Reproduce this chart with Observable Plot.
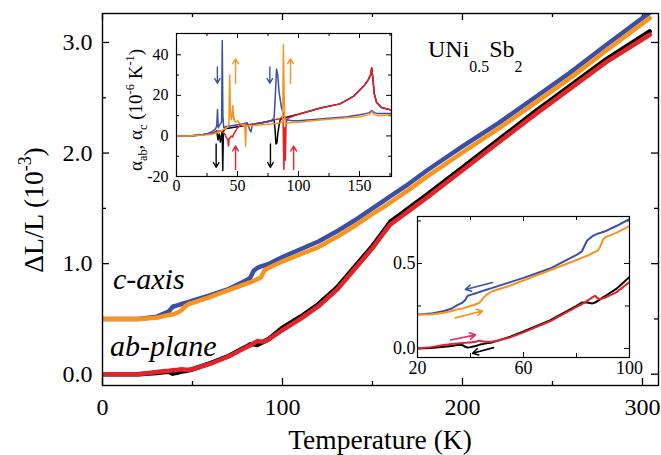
<!DOCTYPE html>
<html><head><meta charset="utf-8">
<script src="https://cdn.jsdelivr.net/npm/d3@7"></script>
<script src="https://cdn.jsdelivr.net/npm/@observablehq/plot@0.6"></script>
<style>
html,body{margin:0;padding:0;background:#fff;}
#wrap{position:relative;width:661px;height:455px;overflow:hidden;background:#fff;}
#wrap svg{position:absolute;}
</style></head><body><div id="wrap"></div>
<script>
// ---------------- DATA ----------------
// Main panel: ΔL/L (10^-3) vs Temperature (K); c-axis curves offset to 0.5
const tMain = [0,10,20,30,35,37,39,42,44,46,48,50,60,70,80,82,84,86,88,90,92,100,110,120,130,140,150,155,160,165,170,180,200,220,240,260,280,304];
const mainCBlue   = [0.50,0.50,0.50,0.52,0.555,0.57,0.61,0.625,0.635,0.645,0.655,0.665,0.715,0.77,0.85,0.87,0.935,0.96,0.975,0.985,0.995,1.06,1.13,1.20,1.29,1.39,1.50,1.555,1.61,1.665,1.72,1.84,2.06,2.27,2.50,2.73,2.98,3.27];
const mainCOrange = [0.50,0.50,0.50,0.51,0.53,0.535,0.54,0.56,0.58,0.615,0.635,0.645,0.70,0.76,0.82,0.83,0.845,0.86,0.875,0.94,0.96,1.02,1.085,1.15,1.24,1.34,1.45,1.50,1.555,1.61,1.665,1.785,2.005,2.22,2.45,2.68,2.93,3.22];
const mainAbBlack = [0,0,0,0.01,0.02,0.02,0.005,0.015,0.025,0.03,0.035,0.045,0.10,0.165,0.25,0.27,0.27,0.265,0.28,0.30,0.315,0.42,0.52,0.635,0.78,0.97,1.16,1.27,1.38,1.44,1.50,1.62,1.87,2.12,2.37,2.61,2.85,3.10];
const mainAbRed   = [0,0,0,0.02,0.03,0.032,0.035,0.04,0.045,0.04,0.04,0.045,0.095,0.16,0.245,0.26,0.28,0.30,0.295,0.295,0.31,0.40,0.50,0.615,0.76,0.95,1.14,1.25,1.355,1.415,1.475,1.595,1.845,2.095,2.345,2.585,2.825,3.07];

// Lower-right inset: 20-100 K detail
const tIn = [20,25,30,33,35,37,38,39,40,42,43,44,45,46,48,50,55,60,70,80,82,84,86,87,88,89,90,91,95,100];
const inCBlue   = [0.20,0.205,0.22,0.235,0.255,0.27,0.285,0.31,0.315,0.325,0.33,0.335,0.34,0.345,0.355,0.365,0.39,0.415,0.47,0.55,0.57,0.635,0.66,0.668,0.675,0.68,0.685,0.69,0.72,0.76];
const inCOrange = [0.20,0.20,0.21,0.22,0.23,0.235,0.24,0.245,0.25,0.26,0.265,0.28,0.30,0.315,0.335,0.345,0.37,0.40,0.46,0.52,0.533,0.545,0.56,0.568,0.575,0.60,0.64,0.655,0.68,0.72];
const inAbBlack = [0,0.003,0.01,0.015,0.02,0.02,0.01,0.005,0.008,0.015,0.02,0.025,0.027,0.03,0.035,0.045,0.07,0.10,0.165,0.25,0.27,0.27,0.265,0.27,0.28,0.29,0.30,0.31,0.35,0.42];
const inAbRed   = [0,0.008,0.02,0.027,0.03,0.032,0.033,0.035,0.035,0.04,0.045,0.045,0.04,0.04,0.04,0.045,0.065,0.095,0.16,0.245,0.26,0.28,0.30,0.31,0.295,0.29,0.295,0.30,0.33,0.39];
const in2ArrowX1 = [48.3, 34.3, 32.5, 48.7];
const in2ArrowY1 = [0.388, 0.18, 0.05, 0.005];
const in2ArrowX2 = [38.1, 44.5, 41.9, 40.8];
const in2ArrowY2 = [0.347, 0.22, 0.08, -0.028];
const in2ArrowC  = ["blue","orange","pink","black"];

// Upper-left inset: thermal expansion coefficients (10^-6 K^-1)
const aBlueT = [0,10,20,25,30,32,33,33.6,34.2,35,36,37,37.5,38,38.7,40,45,50,55,58,60,61,62,65,70,75,78,80,81,82,83,84,86,88,90,95,100,120,140,150,155,158,160,162,165,170,176];
const aBlue  = [0,0,0.5,1,2.5,3.5,5,13,4,5,6,7,47,10,4,4.5,5,5.5,6,6.5,3,2,5,6,6.5,7,7.5,9,20,33,30,22,14,10,8,7.5,7.5,8.5,9.5,10.4,11,11.5,12.5,11.5,11,11,11];
const aOrangeT = [0,10,20,25,30,35,38,40,42,43,43.6,44.2,44.8,45.5,46.2,46.8,47.4,48,49,50,52,53,55,56,56.6,57.2,58,60,70,80,85,87,87.6,88.2,88.8,89.5,90,92,100,120,140,150,158,160,162,165,176];
const aOrange  = [0,0,0.3,0.6,1,2,3,3.5,4.5,6,30,12,8,10,15,8,9,7,7,7.5,6,6,5,5,-5,5,5,5,5.5,6,6.5,7,45,20,8,6,6,6.5,6.8,8,9,9.5,10.5,12,10.5,10,10.5];
const aBlackT = [0,10,20,25,30,32,33,34,35,36,37,37.5,37.9,38.4,39,40,45,50,60,70,77,80,80.8,81.5,82.3,83,84,85,87,90,100,118,134,145,150,154,157,159,160,161,162,164,168,176];
const aBlack  = [0,0,0.5,1,1.5,2,2.5,-2,1,-3,1,2,-17,2,3,3.5,4,4.5,5.5,6.5,7.4,7.8,3,-4,-3.5,1,5,8,8.8,9.2,10.7,13.8,15.8,19.5,22.5,25,27.5,30,33.5,28,21,16.5,14,12.8];
const aRedT = [0,10,20,25,30,35,38,40,41,42,42.6,43.2,44,45,46,47,48,50,52,55,60,70,80,85,86.6,87.4,88,88.6,89.2,89.8,90.5,92,100,118,134,145,150,154,157,159,160,161,162,164,168,176];
const aRed  = [0,0,0.5,1,1.5,2.5,2,0.5,-1,-1.5,-5,-1,-1,0,-0.5,1,2,4,5,5,5.5,6.5,8,8.5,9.5,6,-16.5,4,-12,6,8,9,10.7,13.8,15.8,19.5,22.5,25,27.5,30,33.5,28,21,16.5,14,12.8];
const in1ArrowX    = [33.5, 76.5, 48.4, 93.4, 32.5, 77, 48.4, 96];
const in1ArrowFrom = [34, 34, 26, 26, -4, -4, -16.5, -16.5];
const in1ArrowTo   = [26, 26, 38, 38, -15.5, -15.5, -5, -5];
const in1ArrowC    = ["blue","blue","orange","orange","black","black","red","red"];

// tick values
const mainXTicks = [0,100,200,300], mainXMinor = [50,150,250];
const mainYTicks = [0,1,2,3], mainYMinor = [0.5,1.5,2.5];
const in1XTicks = [0,50,100,150], in1XMinor = [25,75,125,175];
const in1YTicks = [-20,0,20,40], in1YMinor = [-10,10,30];
const in2XTicks = [20,60,100], in2XMinor = [40,80];
const in2YTicks = [0,0.5], in2YMinor = [0.25,0.75];

// ---------------- STYLE ----------------
const COL = {blue:"#3b4fa6", orange:"#f7941d", black:"#000000", red:"#e2232a", pink:"#e3326a"};
const FONT = "Liberation Serif";
const wrap = document.getElementById("wrap");

const rows = (ts, vs) => ts.map((t,i)=>({T:t, v:vs[i]}));

function frameTicks(xs, ys, len, fw, fh, sw) {
  return [
    Plot.ruleX(xs, {x: d=>d, insetTop: fh - len, strokeWidth: sw}),
    Plot.ruleX(xs, {x: d=>d, insetBottom: fh - len, strokeWidth: sw}),
    Plot.ruleY(ys, {y: d=>d, insetRight: fw - len, strokeWidth: sw}),
    Plot.ruleY(ys, {y: d=>d, insetLeft: fw - len, strokeWidth: sw})
  ];
}

function richText(svg, {x, y, rotate=0, anchor="start", size, italic=false, parts}) {
  const t = d3.select(svg).append("text")
    .attr("transform", `translate(${x},${y}) rotate(${rotate})`)
    .attr("text-anchor", anchor)
    .attr("font-family", FONT)
    .attr("font-size", size)
    .attr("font-style", italic ? "italic" : "normal")
    .attr("fill", "black");
  let cur = 0;
  for (const [str, shift=0, scale=1] of parts) {
    t.append("tspan").attr("dy", shift - cur).attr("font-size", size*scale).text(str);
    cur = shift;
  }
}

function place(svg, left, top) {
  svg.style.left = left + "px";
  svg.style.top = top + "px";
  wrap.appendChild(svg);
}

// ---------------- MAIN ----------------
const M = {top:13, right:3, bottom:70, left:102};
const mainW = 661, mainH = 455;
const mfw = mainW - M.left - M.right, mfh = mainH - M.top - M.bottom;
const mainLine = (vs, c) => Plot.line(rows(tMain, vs), {x:"T", y:"v", stroke: COL[c], strokeWidth: 4.5, strokeLinejoin:"round", clip: true});

const mainSvg = Plot.plot({
  width: mainW, height: mainH,
  marginTop: M.top, marginRight: M.right, marginBottom: M.bottom, marginLeft: M.left,
  x: {domain: [0, 308.9]},
  y: {domain: [-0.102, 3.262]},
  style: {fontFamily: FONT, fontSize: "24px", color: "black", background: "transparent"},
  marks: [
    ...frameTicks(mainXTicks, mainYTicks, 7, mfw, mfh, 1.3),
    ...frameTicks(mainXMinor, mainYMinor, 4, mfw, mfh, 1.3),
    Plot.axisX({ticks: mainXTicks, tickSize: 0, tickPadding: 12, tickFormat: d=>String(d), label: null}),
    Plot.axisY({ticks: mainYTicks, tickSize: 0, tickPadding: 10, tickFormat: d=>d.toFixed(1), label: null}),
    mainLine(mainCBlue, "blue"),
    mainLine(mainCOrange, "orange"),
    mainLine(mainAbBlack, "black"),
    mainLine(mainAbRed, "red"),
    Plot.frame({stroke: "black", strokeWidth: 1.4})
  ]
});
place(mainSvg, 0, 0);
richText(mainSvg, {x: 380, y: 449, anchor: "middle", size: 27.5, parts: [["Temperature (K)"]]});
richText(mainSvg, {x: 43, y: 210, rotate: -90, anchor: "middle", size: 27.5,
  parts: [["ΔL/L (10"], ["-3", -12, 0.65], [")", 0]]});
richText(mainSvg, {x: 113, y: 289, size: 30, italic: true, parts: [["c-axis"]]});
richText(mainSvg, {x: 110, y: 356, size: 30, italic: true, parts: [["ab-plane"]]});
richText(mainSvg, {x: 428, y: 57, size: 24,
  parts: [["UNi"], ["0.5", 15, 0.66], ["Sb", 0], ["2", 15, 0.66]]});

// ---------------- INSET 1 (alpha) ----------------
const I1 = {top:4, right:4, bottom:22, left:76};
const i1w = 295, i1h = 169;
const i1fw = i1w - I1.left - I1.right, i1fh = i1h - I1.top - I1.bottom;
const aLine = (ts, vs, c) => Plot.line(rows(ts, vs), {x:"T", y:"v", stroke: COL[c], strokeWidth: 1.5, strokeLinejoin:"round", clip: true});
const in1Arrows = in1ArrowX.map((x,i)=>({x, y1: in1ArrowFrom[i], y2: in1ArrowTo[i], c: COL[in1ArrowC[i]]}));

const in1Svg = Plot.plot({
  width: i1w, height: i1h,
  marginTop: I1.top, marginRight: I1.right, marginBottom: I1.bottom, marginLeft: I1.left,
  x: {domain: [0, 176.2]},
  y: {domain: [-20, 50.5]},
  style: {fontFamily: FONT, fontSize: "16px", color: "black", background: "transparent"},
  marks: [
    ...frameTicks(in1XTicks, in1YTicks, 5, i1fw, i1fh, 1),
    ...frameTicks(in1XMinor, in1YMinor, 3, i1fw, i1fh, 1),
    Plot.axisX({ticks: in1XTicks, tickSize: 0, tickPadding: 3, tickFormat: d=>String(d), label: null}),
    Plot.axisY({ticks: in1YTicks, tickSize: 0, tickPadding: 8, tickFormat: d=>String(d), label: null}),
    aLine(aBlackT, aBlack, "black"),
    aLine(aRedT, aRed, "red"),
    aLine(aBlueT, aBlue, "blue"),
    aLine(aOrangeT, aOrange, "orange"),
    Plot.arrow(in1Arrows, {x: "x", y1: "y1", x2: "x", y2: "y2", stroke: "c", strokeWidth: 1.4, headLength: 6}),
    Plot.frame({stroke: "black", strokeWidth: 1.2})
  ]
});
place(in1Svg, 100, 29);
richText(in1Svg, {x: 42, y: 81, rotate: -90, anchor: "middle", size: 19,
  parts: [["α"], ["ab", 5, 0.65], [", α", 0], ["c", 5, 0.65], [" (10", 0], ["-6", -8, 0.65], [" K", 0], ["-1", -8, 0.65], [")", 0]]});

// ---------------- INSET 2 (detail) ----------------
const I2 = {top:4, right:24, bottom:26, left:40};
const i2w = 276, i2h = 171;
const i2fw = i2w - I2.left - I2.right, i2fh = i2h - I2.top - I2.bottom;
const dLine = (vs, c) => Plot.line(rows(tIn, vs), {x:"T", y:"v", stroke: COL[c], strokeWidth: 2, strokeLinejoin:"round", clip: true});
const in2Arrows = in2ArrowX1.map((x1,i)=>({x1, y1: in2ArrowY1[i], x2: in2ArrowX2[i], y2: in2ArrowY2[i], c: COL[in2ArrowC[i]]}));

const in2Svg = Plot.plot({
  width: i2w, height: i2h,
  marginTop: I2.top, marginRight: I2.right, marginBottom: I2.bottom, marginLeft: I2.left,
  x: {domain: [20, 100]},
  y: {domain: [-0.053, 0.776]},
  style: {fontFamily: FONT, fontSize: "18px", color: "black", background: "transparent", overflow: "visible"},
  marks: [
    ...frameTicks(in2XTicks, in2YTicks, 5, i2fw, i2fh, 1),
    ...frameTicks(in2XMinor, in2YMinor, 4, i2fw, i2fh, 1),
    Plot.axisX({ticks: in2XTicks, tickSize: 0, tickPadding: 4, tickFormat: d=>String(d), label: null}),
    Plot.axisY({ticks: in2YTicks, tickSize: 0, tickPadding: 2, tickFormat: d=>d.toFixed(1), label: null}),
    dLine(inCBlue, "blue"),
    dLine(inCOrange, "orange"),
    dLine(inAbBlack, "black"),
    dLine(inAbRed, "red"),
    Plot.arrow(in2Arrows, {x1: "x1", y1: "y1", x2: "x2", y2: "y2", stroke: "c", strokeWidth: 1.6, headLength: 6}),
    Plot.frame({stroke: "black", strokeWidth: 1.2})
  ]
});
place(in2Svg, 377, 212);
</script>
</body></html>
